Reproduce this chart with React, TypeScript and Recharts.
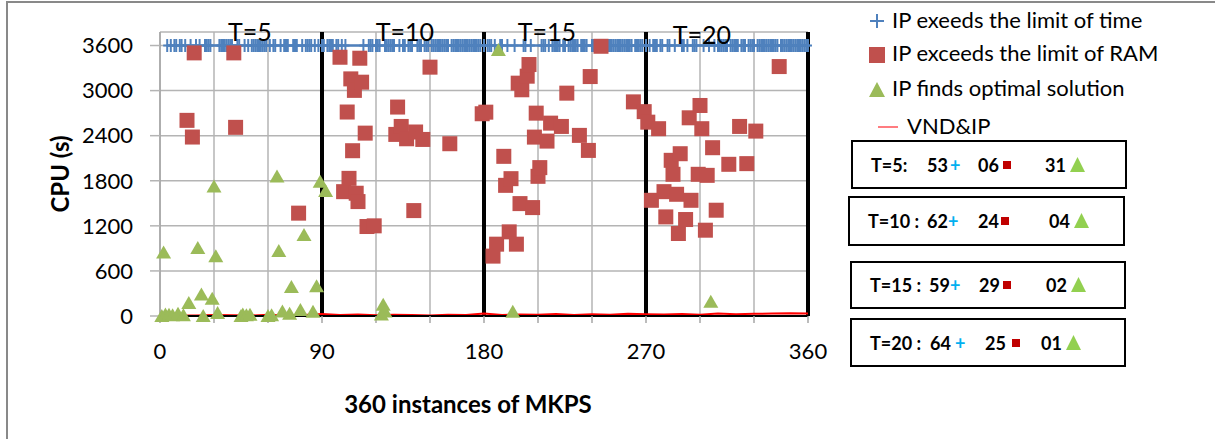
import React from "react";
import {
  CartesianGrid,
  ComposedChart,
  Line,
  ReferenceDot,
  ReferenceLine,
  Scatter,
  XAxis,
  YAxis,
} from "recharts";

const xTicks = [0, 30, 60, 90, 120, 150, 180, 210, 240, 270, 300, 330, 360];
const xTickLabels = [0, 90, 180, 270, 360];
const yTicks = [0, 600, 1200, 1800, 2400, 3000, 3600];
const periodEnds = [90, 180, 270, 360];
const periodNames = ["T=5", "T=10", "T=15", "T=20"];
const TIME_LIMIT = 3600;

// instances where IP stopped on the time limit (drawn at 3600 s)
const timeT5 = [4, 6, 8, 9, 11, 12, 14, 17, 20, 22, 25, 26, 27, 28, 33, 34, 35, 36, 37, 38, 39, 40, 43, 44, 47, 49, 51, 52, 53, 54, 55, 56, 57, 58, 59, 61, 63, 64, 67, 69, 70, 71, 74, 75, 76, 79, 81, 82, 83, 84, 86, 88, 90];
const timeT10 = [91, 93, 94, 95, 96, 98, 99, 101, 103, 113, 116, 117, 118, 120, 121, 122, 125, 126, 127, 128, 129, 130, 133, 135, 136, 138, 139, 140, 143, 144, 145, 147, 148, 149, 151, 152, 153, 154, 155, 156, 157, 158, 159, 160, 162, 163, 164, 165, 166, 167, 168, 169, 170, 171, 172, 173, 174, 175, 176, 177, 178, 180];
const timeT15 = [182, 183, 184, 186, 189, 190, 193, 197, 202, 203, 206, 212, 213, 214, 216, 218, 219, 220, 221, 222, 224, 225, 227, 228, 229, 230, 231, 232, 234, 235, 236, 237, 240, 241, 242, 243, 244, 246, 247, 248, 249, 250, 251, 252, 253, 254, 255, 256, 257, 258, 259, 260, 261, 262, 264, 265, 266, 267, 268, 270];
const timeT20 = [272, 274, 275, 276, 278, 279, 282, 283, 286, 290, 291, 293, 296, 297, 298, 302, 305, 308, 310, 311, 312, 313, 314, 315, 317, 318, 319, 320, 321, 323, 324, 325, 327, 328, 329, 330, 332, 333, 334, 335, 336, 337, 338, 339, 340, 341, 342, 343, 345, 346, 347, 348, 349, 350, 351, 352, 353, 354, 355, 356, 357, 358, 359, 360];

// [instance, cpu seconds] where IP ran out of RAM
const ramT5 = [[15, 2604], [18, 2382], [19, 3502], [41, 3502], [42, 2511], [77, 1369]];
const ramT10 = [[100, 3444], [102, 1655], [104, 2715], [105, 1832], [106, 3156], [107, 2200], [108, 3003], [109, 1634], [110, 1523], [111, 3431], [112, 3112], [114, 2434], [115, 1191], [119, 1200], [131, 2417], [132, 2781], [134, 2523], [137, 2359], [141, 1403], [142, 2449], [146, 2350], [150, 3312], [161, 2293], [179, 2692]];
const ramT15 = [[181, 2713], [185, 797], [187, 956], [191, 2125], [192, 1739], [194, 1120], [195, 1828], [198, 956], [199, 3099], [200, 1496], [201, 3011], [204, 3192], [205, 3347], [207, 1443], [208, 2381], [209, 2700], [210, 1859], [211, 1975], [215, 2328], [217, 2567], [223, 2523], [226, 2966], [233, 2404], [238, 2204], [239, 3187], [245, 3590], [263, 2850], [269, 2720]];
const ramT20 = [[271, 2580], [273, 1540], [277, 2493], [280, 1655], [281, 1319], [284, 2072], [285, 1886], [287, 1620], [288, 1098], [289, 2160], [292, 1284], [294, 2638], [295, 1540], [299, 1886], [300, 2802], [301, 2493], [303, 1142], [304, 1872], [307, 2240], [309, 1408], [316, 2019], [322, 2523], [326, 2028], [331, 2461], [344, 3320]];

// [instance, cpu seconds] where IP proved optimality
const optT5 = [[1, 0], [2, 845], [3, 20], [5, 15], [7, 10], [10, 30], [13, 10], [16, 172], [21, 905], [23, 285], [24, 0], [29, 230], [30, 1724], [31, 795], [32, 40], [45, 0], [46, 20], [48, 10], [50, 15], [60, 0], [62, 10], [65, 1858], [66, 865], [68, 60], [72, 30], [73, 386], [78, 80], [80, 1078], [85, 55], [87, 395], [89, 1787]];
const optT10 = [[92, 1664], [123, 20], [124, 150], [125, 60]];
const optT15 = [[188, 3540], [196, 57]];
const optT20 = [[306, 190]];

// VND&IP cpu time, sampled along the instances
const vndX = [0, 10, 20, 30, 40, 50, 60, 70, 80, 90, 100, 110, 120, 130, 140, 150, 160, 170, 180, 190, 200, 210, 220, 230, 240, 250, 260, 270, 280, 290, 300, 310, 320, 330, 340, 350, 360];
const vndCpu = [5, 8, 6, 12, 10, 5, 15, 8, 12, 25, 14, 20, 10, 16, 12, 8, 18, 14, 32, 12, 20, 16, 28, 14, 22, 18, 30, 24, 20, 28, 16, 34, 24, 30, 32, 38, 34];

// legend + summary boxes
const legendNames = [
  "IP exeeds the limit of time",
  "IP exceeds the limit of RAM",
  "IP finds optimal solution",
  "VND&IP",
];
const summaryLabels = ["T=5:", "T=10 :", "T=15 :", "T=20 :"];
const summaryTime = ["53", "62", "59", "64"];
const summaryRam = ["06", "24", "29", "25"];
const summaryOpt = ["31", "04", "02", "01"];

const toPoints = (pairs: number[][]) => pairs.map(([x, y]) => ({ x, y }));
const timeData = [...timeT5, ...timeT10, ...timeT15, ...timeT20].map((x) => ({ x, y: TIME_LIMIT }));
const ramData = toPoints([...ramT5, ...ramT10, ...ramT15, ...ramT20]);
const optData = toPoints([...optT5, ...optT10, ...optT15, ...optT20]);
const vndData = vndX.map((x, i) => ({ x, y: vndCpu[i] }));

const BLUE = "#4F81BD";
const RED = "#C0504D";
const GREEN = "#9BBB59";
const FONT = "Lato, 'Open Sans', sans-serif";

const PlusMark = ({ cx, cy }: any) => (
  <g stroke={BLUE} strokeWidth={2}>
    <line x1={cx - 4} y1={cy} x2={cx + 4} y2={cy} />
    <line x1={cx} y1={cy - 6.5} x2={cx} y2={cy + 6.5} />
  </g>
);

const SquareMark = ({ cx, cy }: any) => (
  <rect x={cx - 7.5} y={cy - 7.5} width={15} height={15} fill={RED} />
);

const TriangleMark = ({ cx, cy }: any) => (
  <path d={`M${cx},${cy - 7} L${cx + 7.5},${cy + 6} L${cx - 7.5},${cy + 6} Z`} fill={GREEN} />
);

// label positions (x in instance units)
const periodLabelX = [50, 136, 215, 301];
const periodLabelY = [3780, 3780, 3780, 3745];

const txt = (left: number, center: number, size: number, bold = false): React.CSSProperties => ({
  position: "absolute",
  left,
  top: center - 0.527 * size,
  fontSize: size,
  lineHeight: 1,
  fontWeight: bold ? 700 : 400,
  whiteSpace: "nowrap",
  color: "#000",
});

const boxRects = [
  [851, 140, 276, 49],
  [848, 196, 277, 50],
  [850, 261, 276, 48],
  [850, 318, 276, 49],
];
const boxCenters = [165, 221, 285, 343];
const boxCols = [
  { lab: 871, n1: 927, plus: 950, n2: 978, sq: 1003, n3: 1045, tri: 1070 },
  { lab: 868, n1: 927, plus: 948, n2: 978, sq: 1001, n3: 1049, tri: 1074 },
  { lab: 870, n1: 929, plus: 950, n2: 979, sq: 1003, n3: 1046, tri: 1071 },
  { lab: 870, n1: 930, plus: 955, n2: 985, sq: 1012, n3: 1041, tri: 1066 },
];

export default function App() {
  return (
    <div
      style={{
        position: "absolute",
        left: 0,
        top: 0,
        width: 1215,
        height: 439,
        overflow: "hidden",
        background: "#fff",
        fontFamily: FONT,
      }}
    >
      <div
        style={{
          position: "absolute",
          left: 6,
          top: 1,
          width: 1400,
          height: 600,
          border: "2px solid #898989",
        }}
      />
      <div style={{ position: "absolute", left: 0, top: 0 }}>
        <ComposedChart
          width={1215}
          height={439}
          margin={{ top: 32, right: 407, bottom: 26, left: 55 }}
        >
          <CartesianGrid stroke="#B4B4B4" strokeWidth={1.5} />
          <XAxis
            type="number"
            dataKey="x"
            domain={[0, 360]}
            ticks={xTicks}
            interval={0}
            tickFormatter={(v: number) => (xTickLabels.includes(v) ? String(v) : "")}
            tick={{ fill: "#000", fontSize: 22, fontFamily: FONT }}
            tickLine={{ stroke: "#A6A6A6", strokeWidth: 1.5 }}
            tickSize={7}
            tickMargin={20}
            axisLine={{ stroke: "#000", strokeWidth: 2 }}
            height={97}
            label={{
              value: "360 instances of MKPS",
              position: "insideBottom",
              offset: 0,
              dx: -16,
              style: { fontWeight: 700, fontSize: 24, fill: "#000", fontFamily: FONT },
            }}
          />
          <YAxis
            type="number"
            dataKey="y"
            domain={[0, 3780]}
            ticks={yTicks}
            interval={0}
            width={105}
            tick={{ fill: "#000", fontSize: 22, fontFamily: FONT }}
            tickLine={{ stroke: "#B4B4B4", strokeWidth: 1.5 }}
            tickSize={10}
            tickMargin={17}
            axisLine={{ stroke: "#A6A6A6", strokeWidth: 1.5 }}
            label={{
              value: "CPU (s)",
              angle: -90,
              position: "insideLeft",
              offset: 5,
              style: { textAnchor: "middle", fontWeight: 700, fontSize: 24, fill: "#000", fontFamily: FONT },
            }}
          />
          {periodEnds.map((x) => (
            <ReferenceLine key={x} x={x} stroke="#000" strokeWidth={4} />
          ))}
          <Line
            data={vndData}
            dataKey="y"
            stroke="#FF0000"
            strokeWidth={2}
            dot={false}
            isAnimationActive={false}
          />
          <Scatter
            data={timeData}
            shape={PlusMark}
            line={{ stroke: BLUE, strokeWidth: 2.5 }}
            lineType="joint"
            isAnimationActive={false}
          />
          <Scatter data={ramData} shape={SquareMark} isAnimationActive={false} />
          <Scatter data={optData} shape={TriangleMark} isAnimationActive={false} />
          {periodNames.map((name, i) => (
            <ReferenceDot
              key={name}
              x={periodLabelX[i]}
              y={periodLabelY[i]}
              r={0}
              fill="none"
              stroke="none"
              label={{ value: name, position: "center", fontSize: 25, fill: "#000", fontFamily: FONT }}
            />
          ))}
        </ComposedChart>
      </div>

      {/* legend */}
      <svg style={{ position: "absolute", left: 0, top: 0 }} width={1215} height={140}>
        <g stroke={BLUE} strokeWidth={2}>
          <line x1={870} y1={21} x2={884} y2={21} />
          <line x1={877} y1={14} x2={877} y2={28} />
        </g>
        <rect x={869} y={47} width={16} height={16} fill={RED} />
        <path d="M877,82 L885,97 L869,97 Z" fill={GREEN} />
        <line x1={878} y1={127} x2={898} y2={127} stroke="#FF7C80" strokeWidth={2} />
      </svg>
      <div style={txt(892, 20.5, 22)}>{legendNames[0]}</div>
      <div style={txt(892, 54, 22)}>{legendNames[1]}</div>
      <div style={txt(892, 89, 22)}>{legendNames[2]}</div>
      <div style={txt(907, 127, 22)}>{legendNames[3]}</div>

      {/* summary boxes */}
      {boxRects.map(([x, y, w, h], i) => {
        const c = boxCenters[i];
        const col = boxCols[i];
        return (
          <React.Fragment key={i}>
            <div
              style={{
                position: "absolute",
                left: x,
                top: y,
                width: w,
                height: h,
                boxSizing: "border-box",
                border: "2px solid #000",
              }}
            />
            <div style={txt(col.lab, c, 18, true)}>{summaryLabels[i]}</div>
            <div style={txt(col.n1, c, 18, true)}>{summaryTime[i]}</div>
            <div style={{ ...txt(col.plus, c, 18, true), color: "#00B0F0" }}>+</div>
            <div style={txt(col.n2, c, 18, true)}>{summaryRam[i]}</div>
            <div style={{ position: "absolute", left: col.sq, top: c - 4, width: 8, height: 8, background: "#C00000" }} />
            <div style={txt(col.n3, c, 18, true)}>{summaryOpt[i]}</div>
            <svg style={{ position: "absolute", left: col.tri, top: c - 8 }} width={16} height={16}>
              <path d="M7.5,0 L15,15 L0,15 Z" fill="#92D050" />
            </svg>
          </React.Fragment>
        );
      })}
    </div>
  );
}
